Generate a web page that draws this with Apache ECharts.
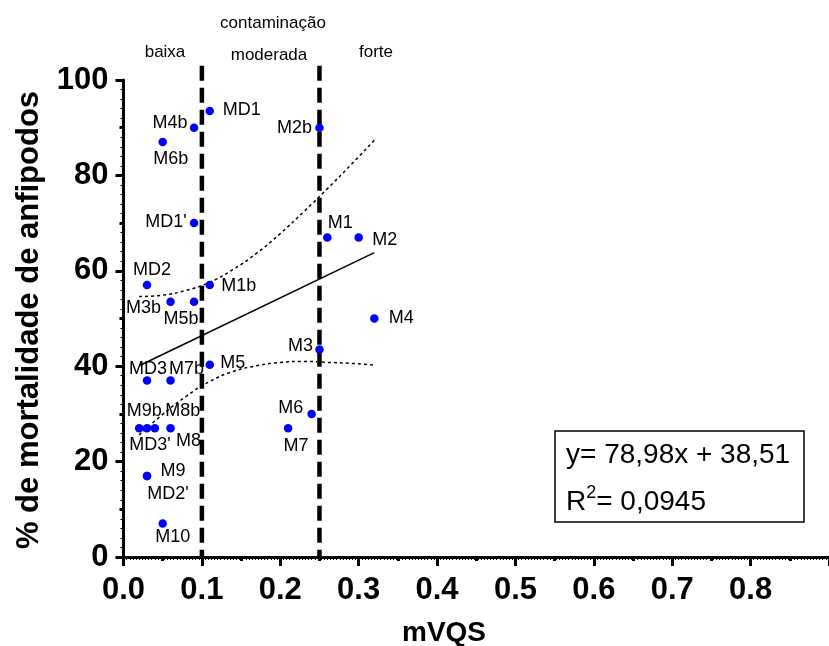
<!DOCTYPE html>
<html>
<head>
<meta charset="utf-8">
<script src="https://cdn.jsdelivr.net/npm/echarts@6/dist/echarts.min.js"></script>
<style>html,body{margin:0;padding:0;background:#fff}#c{width:829px;height:646px}</style>
</head>
<body>
<div id="c"></div>
<script>
// ---- data ----
const pointNames = ['MD1','M4b','M6b','M2b',"MD1'",'M1','M2','M4','M3','M6','M7','MD2','M1b','M3b','M5b','M5','MD3','M7b','M9b',"MD3'",'M8b','M8','M9',"MD2'",'M10'];
const mvqs      = [0.11,0.09,0.05,0.25,0.09,0.26,0.30,0.32,0.25,0.24,0.21,0.03,0.11,0.06,0.09,0.11,0.03,0.06,0.02,0.03,0.04,0.06,0.03,0.03,0.05];
const mortality = [93.5,90,87,90,70,67,67,50,43.5,30,27,57,57,53.5,53.5,40.3,37,37,27,27,27,27,17,17,7];

const fitX = [0.02, 0.32];
const fitY = [40.1, 63.8];
const bandX     = [0.02,0.05,0.08,0.11,0.14,0.17,0.20,0.23,0.26,0.29,0.32];
const bandUpper = [54.6,54.9,55.9,57.6,60.3,63.7,67.8,72.4,77.2,82.2,87.4];
const bandLower = [25.6,29.9,33.7,36.8,38.9,40.1,40.8,41.0,40.8,40.6,40.2];

const thresholds = [0.1, 0.25];
const thresholdTop = 103;
const zoneLabels = ['baixa','moderada','forte'];
const groupTitle = 'contaminação';
const eqLine1 = 'y= 78,98x + 38,51';
const r2Value = '= 0,0945';
const xTitle = 'mVQS';
const yTitle = '% de mortalidade de anfipodos';

// ---- label placement (style only) ----
const labelOffsets = {
  'MD1':[32,-1],'M4b':[-24,-5],'M6b':[8,17],'M2b':[-25,0],"MD1'":[-28,-1],
  'M1':[13,-14],'M2':[26,3],'M4':[27,0],'M3':[-19,-3],'M6':[-21,-6],'M7':[8,18],
  'MD2':[5,-15],'M1b':[29,1],'M3b':[-27,6],'M5b':[-13,17],'M5':[23,-2],
  'MD3':[1,-11],'M7b':[16,-11],'M9b':[5,-17],"MD3'":[3,17],'M8b':[28,-17],
  'M8':[18,13],'M9':[26,-5],"MD2'":[21,18],'M10':[10,13]
};

const FONT = 'Liberation Sans, Arial, Helvetica, sans-serif';
const chart = echarts.init(document.getElementById('c'), null, {renderer:'canvas'});

const pts = pointNames.map((n,i)=>({
  value:[mvqs[i], mortality[i]], name:n,
  label:{offset:labelOffsets[n]||[0,0]}
}));

const xBase = {type:'value', min:0, max:0.9, position:'bottom', splitLine:{show:false}};
const yBase = {type:'value', min:0, max:100, position:'left', splitLine:{show:false}};

const series = [
  {type:'line', data:bandX.map((x,i)=>[x,bandUpper[i]]), showSymbol:false, symbol:'none', smooth:true,
   lineStyle:{color:'#000', width:1.5, type:[3,3]}, silent:true},
  {type:'line', data:bandX.map((x,i)=>[x,bandLower[i]]), showSymbol:false, symbol:'none', smooth:true,
   lineStyle:{color:'#000', width:1.5, type:[3,3]}, silent:true},
  {type:'line', data:fitX.map((x,i)=>[x,fitY[i]]), showSymbol:false, symbol:'none',
   lineStyle:{color:'#000', width:1.5}, silent:true}
];
thresholds.forEach(t=>{
  series.push({type:'line', data:[[t,thresholdTop],[t,0]], showSymbol:false, symbol:'none', clip:false,
    lineStyle:{color:'#000', width:4.5, type:[15,7]}, silent:true});
});
series.push({
  type:'scatter', data:pts, symbolSize:8.5, itemStyle:{color:'#0000ff', opacity:1},
  label:{show:true, position:'inside', formatter:p=>p.name, color:'#000', opacity:1, textBorderWidth:0,
         fontSize:18, fontFamily:FONT},
  z:5
});

chart.setOption({
  animation:false,
  backgroundColor:'#fff',
  grid:{left:123.5, top:80, bottom:89, right:-5.5, containLabel:false},
  xAxis:[
    Object.assign({}, xBase, {interval:0.1,
      axisLine:{show:true, lineStyle:{color:'#000', width:3}},
      axisTick:{show:true, length:9, lineStyle:{color:'#000', width:3}},
      minorTick:{show:true, splitNumber:25, length:3, lineStyle:{color:'#000', width:1}},
      axisLabel:{show:true, color:'#000', fontSize:31, fontWeight:'bold', fontFamily:FONT, margin:18,
        showMaxLabel:false, formatter:v=>v.toFixed(1)}}),
    Object.assign({}, xBase, {interval:0.05,
      axisLine:{show:false}, axisLabel:{show:false},
      axisTick:{show:true, length:4, lineStyle:{color:'#000', width:3}}})
  ],
  yAxis:[
    Object.assign({}, yBase, {interval:20,
      axisLine:{show:true, lineStyle:{color:'#000', width:3}},
      axisTick:{show:true, length:8, lineStyle:{color:'#000', width:3}},
      minorTick:{show:true, splitNumber:10, length:3, lineStyle:{color:'#000', width:1}},
      axisLabel:{show:true, color:'#000', fontSize:31, fontWeight:'bold', fontFamily:FONT, margin:15}}),
    Object.assign({}, yBase, {interval:10,
      axisLine:{show:false}, axisLabel:{show:false},
      axisTick:{show:true, length:4, lineStyle:{color:'#000', width:3}}})
  ],
  series:series,
  graphic:[
    {type:'text', x:444, y:633, style:{text:xTitle, font:'bold 28px '+FONT, fill:'#000', textAlign:'center', textVerticalAlign:'middle'}},
    {type:'text', x:29, y:320, rotation:Math.PI/2, style:{text:yTitle, font:'bold 31px '+FONT, fill:'#000', textAlign:'center', textVerticalAlign:'middle'}},
    {type:'text', x:273, y:23, style:{text:groupTitle, font:'17px '+FONT, fill:'#000', textAlign:'center', textVerticalAlign:'middle'}},
    {type:'text', x:165, y:52, style:{text:zoneLabels[0], font:'17px '+FONT, fill:'#000', textAlign:'center', textVerticalAlign:'middle'}},
    {type:'text', x:269, y:55, style:{text:zoneLabels[1], font:'17px '+FONT, fill:'#000', textAlign:'center', textVerticalAlign:'middle'}},
    {type:'text', x:376, y:52, style:{text:zoneLabels[2], font:'17px '+FONT, fill:'#000', textAlign:'center', textVerticalAlign:'middle'}},
    {type:'rect', shape:{x:555, y:431, width:249, height:91}, style:{fill:'#fff', stroke:'#000', lineWidth:1.5}, z:10},
    {type:'text', x:566, y:455, z:11, style:{text:eqLine1, font:'28px '+FONT, fill:'#000', textAlign:'left', textVerticalAlign:'middle'}},
    {type:'text', x:566, y:500, z:11, style:{
      text:'{a|R}{s|2}{a|'+r2Value+'}', textAlign:'left', textVerticalAlign:'middle',
      rich:{a:{fontSize:28, fontFamily:FONT, fill:'#000', lineHeight:32, verticalAlign:'bottom'},
            s:{fontSize:18, fontFamily:FONT, fill:'#000', lineHeight:32, verticalAlign:'top'}}}}
  ]
});
</script>
</body>
</html>
